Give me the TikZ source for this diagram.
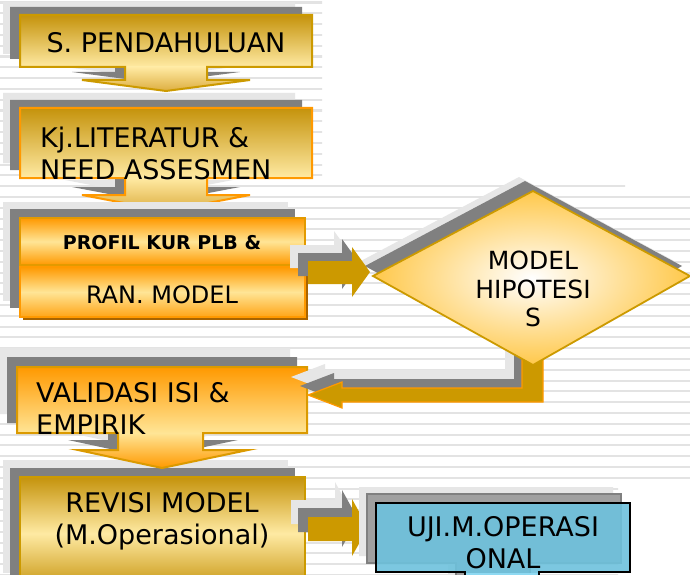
\documentclass[tikz,border=0pt]{standalone}
\usepackage{fontspec}
\setmainfont{DejaVu Sans}
\definecolor{gold}{HTML}{CC9900}
\definecolor{goldline}{HTML}{CC9A00}
\definecolor{goldedge}{HTML}{E39A00}
\definecolor{golddark}{HTML}{C5930C}
\definecolor{goldlight}{HTML}{FFEAA3}
\definecolor{goldmid}{HTML}{DDAE40}
\definecolor{orng}{HTML}{FF9900}
\definecolor{orlight}{HTML}{FFE596}
\definecolor{shdark}{HTML}{808080}
\definecolor{shlight}{HTML}{E6E6E6}
\definecolor{stripe}{HTML}{E3E3E3}
\definecolor{cyanbox}{HTML}{6EC2DD}
\definecolor{cyanlight}{HTML}{8ED9F2}
\definecolor{cyanshade}{HTML}{A0A0A0}
\definecolor{brownedge}{HTML}{A86400}
\definecolor{dmdouter}{HTML}{FFC84A}

% shapes, each taking the drawing options
\newcommand\calloutA[1]{\path[#1] (20,15) -- (312,15) -- (312,67) -- (207,67) -- (207,80) -- (250,80) -- (166,91) -- (82,80) -- (125,80) -- (125,67) -- (20,67) -- cycle;}
\newcommand\calloutB[1]{\path[#1] (20,108) -- (312,108) -- (312,178) -- (207,178) -- (207,195) -- (250,195) -- (166,211) -- (82,195) -- (125,195) -- (125,178) -- (20,178) -- cycle;}
\newcommand\boxC[1]{\path[#1] (20,218) rectangle (305,317);}
\newcommand\calloutD[1]{\path[#1] (17,367) -- (307,367) -- (307,433) -- (203,433) -- (203,450) -- (248,450) -- (162,468) -- (78,450) -- (118,450) -- (118,433) -- (17,433) -- cycle;}
\newcommand\boxE[1]{\path[#1] (20,477) rectangle (305,590);}
\newcommand\diam[1]{\path[#1] (373,276) -- (533,191) -- (690,276) -- (533,365) -- cycle;}
\newcommand\arrA[1]{\path[#1] (308,261) -- (352,261) -- (352,247) -- (370,272) -- (352,297) -- (352,284) -- (308,284) -- cycle;}
\newcommand\arrB[1]{\path[#1] (522,356) -- (543,356) -- (543,402) -- (342,402) -- (342,408) -- (308,395) -- (342,382) -- (342,388) -- (522,388) -- cycle;}
\newcommand\arrC[1]{\path[#1] (308,517) -- (352,517) -- (352,499) -- (368,528) -- (352,556) -- (352,541) -- (308,541) -- cycle;}
\newcommand\calloutF[1]{\path[#1] (376,503) -- (630,503) -- (630,572) -- (539,572) -- (539,590) -- (465,590) -- (465,572) -- (376,572) -- cycle;}

\tikzset{
  lbl/.style={inner sep=0pt, font=\fontsize{27}{32}\selectfont},
  outl/.style={line width=2pt, line join=miter},
}

\begin{document}
\begin{tikzpicture}[x=1pt,y=-1pt]
\useasboundingbox (0,0) rectangle (690,575);
\fill[white] (0,0) rectangle (690,575);

% striped backdrop
\begin{scope}
  \clip (0,0) -- (322,0) -- (322,180) -- (625,180) -- (625,192) -- (690,192) -- (690,487) -- (618,487) -- (618,575) -- (0,575) -- cycle;
  \foreach \k in {0,...,53}
    \fill[stripe] (0,{1.5+10.8*\k}) rectangle (690,{3.6+10.8*\k});
\end{scope}

% S. PENDAHULUAN
\begin{scope}[shift={(-17,-13)}]\calloutA{fill=shlight}\end{scope}
\begin{scope}[shift={(-10,-8)}]\calloutA{fill=shdark}\end{scope}
\begin{scope}
  \calloutA{clip}
  \shade[top color=golddark, bottom color=goldlight] (20,15) rectangle (312,67);
  \shade[top color=goldlight, bottom color=goldmid] (82,67) rectangle (250,91);
\end{scope}
\calloutA{draw=goldline, outl}
\node[lbl] (t1) at (166,43) {S. PENDAHULUAN};

% Kj.LITERATUR
\begin{scope}[shift={(-17,-15)}]\calloutB{fill=shlight}\end{scope}
\begin{scope}[shift={(-10,-8)}]\calloutB{fill=shdark}\end{scope}
\begin{scope}
  \calloutB{clip}
  \shade[top color=golddark, bottom color=goldlight] (20,108) rectangle (312,178);
  \shade[top color=goldlight, bottom color=goldmid] (82,178) rectangle (250,211);
\end{scope}
\calloutB{draw=orng, outl}
\node[lbl, align=left, anchor=west] (t2) at (40,153) {Kj.LITERATUR \&\\NEED ASSESMEN};

% PROFIL KUR PLB & / RAN. MODEL
\begin{scope}[shift={(-17,-16)}]\boxC{fill=shlight}\end{scope}
\begin{scope}[shift={(-10,-9)}]\boxC{fill=shdark}\end{scope}
\fill[brownedge] (23,270) rectangle (308,320);
\shade[top color=orng, bottom color=orng, middle color=orlight] (20,218) rectangle (305,265);
\draw[draw=goldedge, line width=1.5pt] (20,218) rectangle (305,265);
\shade[top color=orng, bottom color=orng!85!orlight, middle color=orlight] (20,267) rectangle (305,317);
\draw[draw=orng, line width=1.2pt] (20,267) rectangle (305,317);
\node[inner sep=0pt, font=\fontsize{19}{22}\selectfont\bfseries] (t3a) at (162,243) {PROFIL KUR PLB \&};
\node[inner sep=0pt, font=\fontsize{24}{28}\selectfont] (t3b) at (162,295) {RAN. MODEL};

% VALIDASI ISI & EMPIRIK, REVISI MODEL
\begin{scope}[shift={(-17,-19)}]\calloutD{fill=shlight}\end{scope}
\begin{scope}[shift={(-10,-10)}]\calloutD{fill=shdark}\end{scope}
\begin{scope}[shift={(-17,-17)}]\boxE{fill=shlight}\end{scope}
\begin{scope}[shift={(-10,-9)}]\boxE{fill=shdark}\end{scope}
\begin{scope}
  \calloutD{clip}
  \shade[top color=orng, bottom color=orlight] (17,367) rectangle (307,433);
  \shade[top color=orlight, bottom color=orng] (78,433) rectangle (248,468);
\end{scope}
\calloutD{draw=goldline!70!orng, outl}
\node[lbl, align=left, anchor=west] (t5) at (36,408) {VALIDASI ISI \&\\EMPIRIK};

\boxE{top color=golddark, bottom color=golddark, middle color=goldlight}
\boxE{draw=goldline, outl}
\node[lbl, align=center] (t6) at (162,521) {REVISI MODEL\\(M.Operasional)};

% MODEL HIPOTESIS and its arrows
\begin{scope}[shift={(-14,-14)}]\diam{fill=shlight}\end{scope}
\begin{scope}[shift={(-8,-10)}]\diam{fill=shdark}\end{scope}

\begin{scope}[shift={(-18,-16)}]\arrA{fill=shlight}\end{scope}
\begin{scope}[shift={(-10,-8)}]\arrA{fill=shdark}\end{scope}
\arrA{fill=gold}

\begin{scope}[shift={(-17,-18)}]\arrB{fill=shlight}\end{scope}
\begin{scope}[shift={(-8,-9)}]\arrB{fill=shdark}\end{scope}
\arrB{fill=gold, draw=orng, line width=1.2pt}

\diam{inner color=white, outer color=dmdouter}
\diam{draw=goldline, line width=1.8pt}
\node[inner sep=0pt, align=center, font=\fontsize{25}{28.5}\selectfont] (t4) at (533,289) {MODEL\\HIPOTESI\\S};

% UJI.M.OPERASIONAL
\begin{scope}[shift={(-17,-17)}]\arrC{fill=shlight}\end{scope}
\begin{scope}[shift={(-10,-9)}]\arrC{fill=shdark}\end{scope}
\arrC{fill=gold}

\begin{scope}[shift={(-17,-16)}]\calloutF{fill=shlight}\end{scope}
\begin{scope}[shift={(-9,-9)}]\calloutF{fill=cyanshade, draw=shdark, line width=1.2pt}\end{scope}
\calloutF{fill=cyanbox, fill opacity=0.9}
\fill[cyanlight] (466,573) rectangle (538,590);
\calloutF{draw=black, line width=2pt}
\node[lbl, align=center] (t7) at (503,543) {UJI.M.OPERASI\\ONAL};
\end{tikzpicture}
\end{document}
